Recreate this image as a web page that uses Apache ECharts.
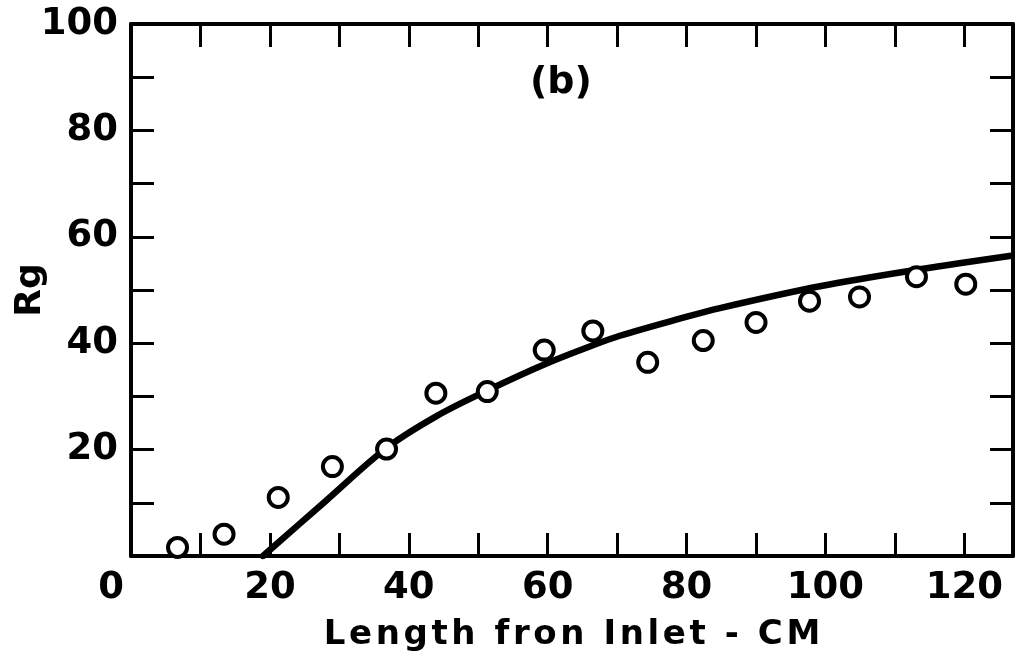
<!DOCTYPE html>
<html>
<head>
<meta charset="utf-8">
<script src="https://cdn.jsdelivr.net/npm/echarts@6/dist/echarts.min.js"></script>
<style>
html,body{margin:0;padding:0;background:#fff;}
#chart{width:1015px;height:664px;}
</style>
</head>
<body>
<div id="chart"></div>
<script>
// measured points (Length from inlet, Rg)
const pointX = [6.7, 13.4, 21.2, 29.0, 36.8, 43.9, 51.3, 59.5, 66.5, 74.4, 82.4, 90.0, 97.7, 104.9, 113.1, 120.2];
const pointY = [1.6, 4.1, 11.0, 16.8, 20.1, 30.6, 30.9, 38.7, 42.3, 36.4, 40.5, 43.9, 47.9, 48.7, 52.5, 51.1];
// fitted curve
const curveX = [19, 28, 36.8, 44, 51.3, 59.5, 66.5, 70.4, 79, 84.8, 99.2, 113.6, 127];
const curveY = [0, 10.3, 20.3, 26.3, 31.1, 36.0, 39.6, 41.4, 44.6, 46.6, 50.7, 53.9, 56.5];
const xLabels = [0, 20, 40, 60, 80, 100, 120];
const yLabels = [20, 40, 60, 80, 100];
const xTitle = 'Length fron Inlet - CM';
const yTitle = 'Rg';
const panelTag = '(b)';

const FONT = 'DejaVu Sans';
// hand lettering of the x title is widely letter-spaced: one rich token per character
const spacedTitle = xTitle.split('').map(c => '{c|' + c + '}').join('');

const chart = echarts.init(document.getElementById('chart'), null, {renderer: 'canvas'});

const axisLine = {show: true, onZero: false, lineStyle: {color: '#000', width: 4}};
const tick = {show: true, inside: true, length: 23, lineStyle: {color: '#000', width: 3}};

const option = {
  backgroundColor: '#fff',
  animation: false,
  grid: {left: 131, right: 2, top: 24, bottom: 108, containLabel: false, outerBoundsMode: 'none'},
  xAxis: [
    {
      type: 'value', min: 0, max: 127, interval: 10, position: 'bottom',
      axisLine: axisLine, axisTick: tick, splitLine: {show: false},
      axisLabel: {
        show: true, margin: 14, color: '#000', fontFamily: FONT, fontWeight: 'bold', fontSize: 37,
        showMaxLabel: false,
        formatter: function (v) {
          if (xLabels.indexOf(v) < 0) return '';
          if (v === 0) return '{z|0}';
          return String(v);
        },
        rich: {z: {color: '#000', fontFamily: FONT, fontWeight: 'bold', fontSize: 37, padding: [0, 40, 0, 0]}}
      },
      name: spacedTitle, nameLocation: 'middle', nameGap: 62,
      nameTextStyle: {
        color: '#000', fontFamily: FONT, fontWeight: 'bold', fontSize: 34,
        rich: {c: {color: '#000', fontFamily: FONT, fontWeight: 'bold', fontSize: 34, padding: [0, 1.8, 0, 1.8]}}
      }
    },
    {
      type: 'value', min: 0, max: 127, interval: 10, position: 'top',
      axisLine: axisLine, axisTick: tick, axisLabel: {show: false}, splitLine: {show: false}
    }
  ],
  yAxis: [
    {
      type: 'value', min: 0, max: 100, interval: 10, position: 'left',
      axisLine: axisLine, axisTick: tick, splitLine: {show: false},
      axisLabel: {
        show: true, margin: 13, color: '#000', fontFamily: FONT, fontWeight: 'bold', fontSize: 37,
        formatter: function (v) { return yLabels.indexOf(v) >= 0 ? String(v) : ''; }
      },
      name: yTitle, nameLocation: 'middle', nameGap: 82, nameRotate: 90, nameMoveOverlap: false,
      nameTextStyle: {color: '#000', fontFamily: FONT, fontWeight: 'bold', fontSize: 36}
    },
    {
      type: 'value', min: 0, max: 100, interval: 10, position: 'right',
      axisLine: axisLine, axisTick: tick, axisLabel: {show: false}, splitLine: {show: false}
    }
  ],
  graphic: [
    {
      type: 'text', left: 530, top: 64, z: 10,
      style: {text: panelTag, fill: '#000', font: 'bold 38px "DejaVu Sans"'}
    }
  ],
  series: [
    {
      type: 'line', xAxisIndex: 0, yAxisIndex: 0,
      data: curveX.map((x, i) => [x, curveY[i]]),
      smooth: 0.35, showSymbol: false, symbol: 'none', clip: true,
      lineStyle: {color: '#000', width: 6.5, cap: 'round'}, z: 2
    },
    {
      type: 'scatter', xAxisIndex: 0, yAxisIndex: 0,
      data: pointX.map((x, i) => [x, pointY[i]]),
      symbol: 'circle', symbolSize: 19,
      itemStyle: {color: '#fff', borderColor: '#000', borderWidth: 4, opacity: 1}, z: 5
    }
  ]
};
chart.setOption(option);
</script>
</body>
</html>
